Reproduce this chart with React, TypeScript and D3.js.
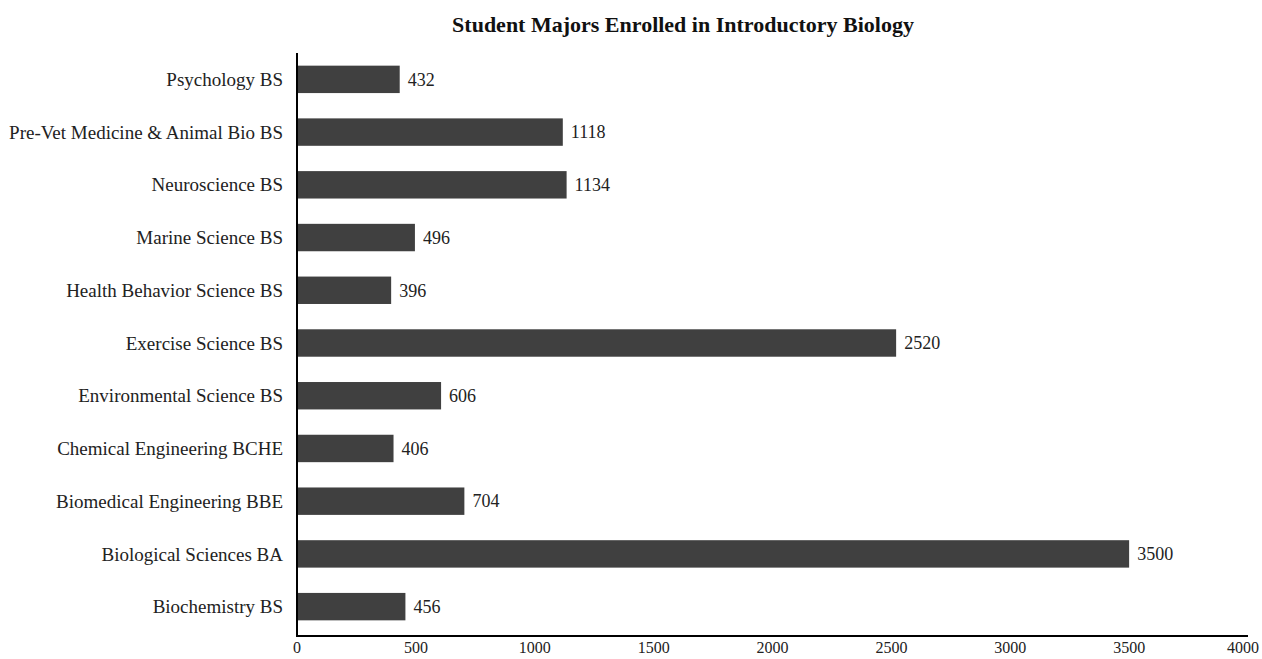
import React, { useEffect, useRef } from "react";
import * as d3 from "d3";

const categories = [
  "Psychology BS",
  "Pre-Vet Medicine & Animal Bio BS",
  "Neuroscience BS",
  "Marine Science BS",
  "Health Behavior Science BS",
  "Exercise Science BS",
  "Environmental Science BS",
  "Chemical Engineering BCHE",
  "Biomedical Engineering BBE",
  "Biological Sciences BA",
  "Biochemistry BS",
];
const values = [432, 1118, 1134, 496, 396, 2520, 606, 406, 704, 3500, 456];
const xTicks = [0, 500, 1000, 1500, 2000, 2500, 3000, 3500, 4000];

const width = 1262;
const height = 659;
const margin = { top: 53, right: 14, bottom: 26, left: 297 };
const font = "'Liberation Serif', 'Times New Roman', serif";

const App: React.FC = () => {
  const svgRef = useRef<SVGSVGElement>(null);

  useEffect(() => {
    const svg = d3.select(svgRef.current);
    svg.selectAll("*").remove();

    const x = d3
      .scaleLinear()
      .domain([0, 4000])
      .range([margin.left, width - margin.right]);

    const y = d3
      .scaleBand()
      .domain(categories)
      .range([margin.top, height - margin.bottom])
      .paddingInner(0.48)
      .paddingOuter(0.24);

    const rows = categories.map((c, i) => ({ label: c, value: values[i] }));

    // title
    svg.append("text")
      .attr("x", 683)
      .attr("y", 32)
      .attr("text-anchor", "middle")
      .attr("font-family", font)
      .attr("font-weight", "bold")
      .attr("font-size", 22)
      .attr("fill", "#111")
      .text("Student Majors Enrolled in Introductory Biology");

    // bars
    svg.selectAll(".bar")
      .data(rows)
      .join("rect")
      .attr("class", "bar")
      .attr("x", x(0))
      .attr("y", (d) => y(d.label) ?? 0)
      .attr("width", (d) => x(d.value) - x(0))
      .attr("height", y.bandwidth())
      .attr("fill", "#404040");

    // value labels
    svg.selectAll(".val")
      .data(rows)
      .join("text")
      .attr("class", "val")
      .attr("x", (d) => x(d.value) + 8)
      .attr("y", (d) => (y(d.label) ?? 0) + y.bandwidth() / 2)
      .attr("dy", "0.35em")
      .attr("font-family", font)
      .attr("font-size", 18)
      .attr("fill", "#222")
      .text((d) => d.value);

    // category labels
    svg.selectAll(".cat")
      .data(rows)
      .join("text")
      .attr("class", "cat")
      .attr("x", margin.left - 14)
      .attr("y", (d) => (y(d.label) ?? 0) + y.bandwidth() / 2)
      .attr("dy", "0.35em")
      .attr("text-anchor", "end")
      .attr("font-family", font)
      .attr("font-size", 19)
      .attr("fill", "#222")
      .text((d) => d.label);

    // axes
    const axisY = height - margin.bottom + 3;
    svg.append("line")
      .attr("x1", x(0))
      .attr("x2", x(0))
      .attr("y1", margin.top)
      .attr("y2", axisY)
      .attr("stroke", "#000")
      .attr("stroke-width", 2);
    svg.append("line")
      .attr("x1", x(0) - 1)
      .attr("x2", x(4000))
      .attr("y1", axisY)
      .attr("y2", axisY)
      .attr("stroke", "#000")
      .attr("stroke-width", 2);

    // tick labels sit right at the bottom edge, as in the source
    svg.selectAll(".tick")
      .data(xTicks)
      .join("text")
      .attr("class", "tick")
      .attr("x", (d) => Math.min(x(d), width - 19))
      .attr("y", 653)
      .attr("text-anchor", "middle")
      .attr("font-family", font)
      .attr("font-size", 16)
      .attr("fill", "#222")
      .text((d) => d);
  }, []);

  return (
    <svg
      ref={svgRef}
      width={width}
      height={height}
      style={{ position: "absolute", top: 0, left: 0, background: "#fff" }}
    />
  );
};

export default App;
